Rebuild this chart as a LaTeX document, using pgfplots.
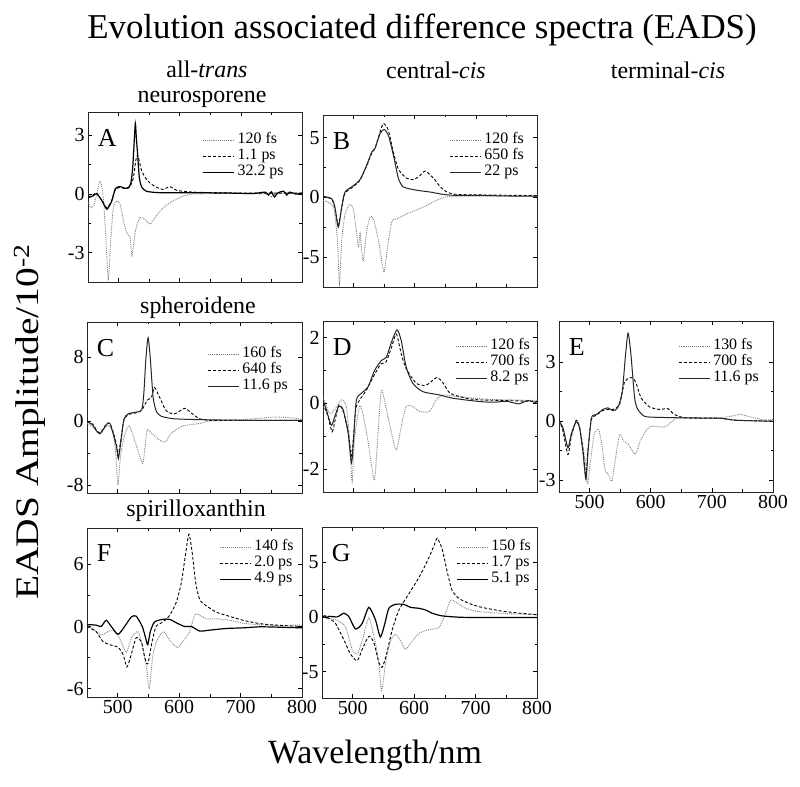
\documentclass[border=0pt]{standalone}
\usepackage{fontspec}
\setmainfont{Liberation Serif}
\usepackage{pgfplots}
\pgfplotsset{compat=1.18}
\pgfplotsset{
  panel/.style={scale only axis, xmin=450, xmax=800, xtick={500,600,700,800},
    minor x tick num=1, minor y tick num=1, tick align=inside, tick pos=both,
    major tick length=4bp, minor tick length=2.5bp,
    axis line style={line width=0.8bp, black!85},
    every tick/.style={line width=0.6bp, black},
    tick label style={font=\fontsize{20}{22}\selectfont},
    /pgf/number format/assume math mode=true,
    legend style={draw=none, fill=none, font=\fontsize{16}{16}\selectfont, anchor=north east,
      inner sep=0pt, nodes={inner xsep=1bp, inner ysep=1bp, text height=10.5bp, text depth=3.5bp}},
    legend cell align=left,
    legend image code/.code={\draw[##1] (0bp,0bp) -- (31bp,0bp); \path (33bp,0bp);}},
  nolab/.style={xticklabels={}},
  dotS/.style={black!50, densely dotted, line width=0.9bp, smooth, tension=0.4},
  dashS/.style={black, dash pattern=on 3bp off 2bp, line width=0.9bp, smooth, tension=0.4},
  solS/.style={black, line width=1.2bp, smooth, tension=0.4},
  solT/.style={black!85, line width=1bp, smooth, tension=0.4},
}
\newcommand{\plet}[1]{\node[anchor=base west, inner sep=0pt, font=\fontsize{26}{26}\selectfont] at (rel axis cs:0.045,0.8) {#1};}
\begin{document}
\begin{tikzpicture}
\path[use as bounding box] (0bp,0bp) rectangle (800bp,787bp);
% titles
\node[font=\fontsize{35}{40}\selectfont] at (422bp,757bp) {Evolution associated difference spectra (EADS)};
\node[font=\fontsize{24}{26}\selectfont] at (207bp,718bp) {all-\textit{trans}};
\node[font=\fontsize{24}{26}\selectfont] at (436bp,717bp) {central-\textit{cis}};
\node[font=\fontsize{24}{26}\selectfont] at (668bp,717bp) {terminal-\textit{cis}};
\node[font=\fontsize{24}{26}\selectfont] at (202bp,688bp) {neurosporene};
\node[font=\fontsize{24}{26}\selectfont] at (198bp,479bp) {spheroidene};
\node[font=\fontsize{24}{26}\selectfont] at (196bp,276bp) {spirilloxanthin};
\node[font=\fontsize{33}{36}\selectfont, rotate=90] at (30bp,365bp) {\scalebox{1.2}[1]{EADS Amplitude/10\textsuperscript{-2}}};
\node[font=\fontsize{34}{36}\selectfont] at (375bp,32bp) {Wavelength/nm};

% A
\begin{axis}[panel, nolab, at={(88bp,505bp)}, anchor=south west, width=214bp, height=170bp,
  ymin=-4.5, ymax=4.2, ytick={-3,0,3}, legend style={at={(0.92,0.882)}}]
\addplot[dotS] coordinates {(450,-0.44)(455,-0.7)(460,-0.55)(465,0.1)(469.6,0.66)(473,0.3)(476,-0.6)(479.5,-2.4)(483.3,-4.42)(487,-2.4)(491.5,-0.7)(497,-0.35)(502.5,-0.52)(508,-1.37)(513.3,-2.0)(518.8,-2.2)(521.6,-3.15)(524,-2.7)(528.6,-1.75)(535,-1.2)(543.3,-1.3)(551.5,-1.54)(559.7,-1.2)(573,-0.7)(589.6,-0.35)(606,-0.1)(622,0)(680,0.03)(740,0.0)(750,-0.15)(760,0.05)(800,0.05)};
\addlegendentry{120 fs}
\addplot[dashS] coordinates {(450,-0.15)(458,-0.05)(464,0.05)(472,-0.3)(478,-0.6)(481,-0.7)(485,-0.55)(489,-0.3)(495,0.25)(503,0.33)(511,0.28)(518,0.35)(524,0.8)(528,1.7)(530.7,2.0)(533,1.8)(538,1.17)(546,0.74)(554,0.5)(562,0.35)(573,0.24)(584,0.38)(595,0.19)(622,0.1)(680,0.06)(740,0.05)(800,0.05)};
\addlegendentry{1.1 ps}
\addplot[solS] coordinates {(450,-0.19)(458,-0.1)(464,0.02)(472,-0.3)(478,-0.65)(481,-0.78)(485,-0.6)(489,-0.35)(495,0.29)(503,0.38)(511,0.29)(516,0.33)(520,0.55)(523,1.3)(525,2.35)(527.4,3.62)(529,2.9)(531,2.1)(534,0.83)(538,0.35)(546,0.14)(568,0.07)(622,0.07)(680,0.05)(720,0.03)(740,0.1)(745,-0.05)(750,0.12)(755,-0.15)(760,0.05)(770,0.15)(775,-0.05)(780,0.1)(790,0.0)(800,0.05)};
\addlegendentry{32.2 ps}
\plet{A}
\end{axis}

% B
\begin{axis}[panel, nolab, at={(323bp,500bp)}, anchor=south west, width=214bp, height=172bp,
  ymin=-7.5, ymax=6.9, ytick={-5,0,5}, legend style={at={(0.944,0.90)}}]
\addplot[dotS] coordinates {(450,-0.25)(467,-0.8)(473.6,-3.6)(476.8,-7.25)(480.6,-3.6)(486,-1.4)(494,-0.6)(499.7,-1.0)(505,-3.0)(508,-4.2)(510.6,-3.0)(513.3,-4.5)(516,-5.3)(521.5,-2.8)(527,-1.65)(532.5,-1.8)(540.7,-3.6)(546,-5.3)(550,-6.27)(555.5,-4.2)(562.6,-2.0)(570.8,-1.8)(587,-1.37)(614.5,-0.8)(642,-0.1)(658,0.08)(720,0.1)(800,0.1)};
\addlegendentry{120 fs}
\addplot[dashS] coordinates {(450,0.1)(464,-0.15)(469.5,-0.9)(475,-2.3)(480.6,-0.9)(486,0.35)(499.7,0.9)(510.6,1.45)(521.5,2.65)(529.7,3.7)(535,4.1)(543.4,5.5)(549,6.19)(557,5.6)(565,3.8)(573.5,2.35)(587,1.6)(598.5,1.5)(608,1.8)(617,2.2)(631,1.6)(642,0.87)(653,0.45)(669,0.25)(720,0.2)(800,0.15)};
\addlegendentry{650 fs}
\addplot[solT] coordinates {(450,0.08)(464,-0.1)(469.5,-0.8)(475,-2.5)(480.6,-0.8)(486,0.45)(499.7,0.98)(510.6,1.5)(521.5,2.7)(529.7,3.8)(535,4.1)(543.4,5.35)(550,5.69)(557,5.2)(565.3,3.5)(573.5,1.57)(581.7,0.87)(603.5,0.6)(625.3,0.45)(647,0.25)(669,0.17)(707,0.17)(750,0.12)(800,0.1)};
\addlegendentry{22 ps}
\plet{B}
\end{axis}

% C
\begin{axis}[panel, nolab, at={(87bp,294bp)}, anchor=south west, width=215bp, height=171bp,
  ymin=-9, ymax=12.4, ytick={-8,0,8}, legend style={at={(0.94,0.86)}}]
\addplot[dotS] coordinates {(450,-0.3)(460,-0.8)(471,-1.5)(482,-0.6)(487,-0.7)(492.7,-1.6)(497,-4.2)(500.4,-8.0)(504.8,-4.2)(511.8,-1.6)(518.8,-0.6)(528,-2.5)(533.6,-3.85)(540.7,-5.3)(544.5,-3.2)(548,-1.1)(555,-1.5)(568.6,-2.4)(578,-2.6)(587.5,-1.5)(606.5,-0.6)(633.6,-0.3)(650,0)(704,0.2)(730,0.35)(758,0.5)(785,0.4)(800,0.2)};
\addlegendentry{160 fs}
\addplot[dashS] coordinates {(450,-0.05)(459.6,-0.4)(465,-1.1)(471,-1.5)(477,-0.9)(482,-0.3)(487.3,-0.3)(492.7,-1.4)(498,-2.9)(501,-4.3)(504.8,-2.5)(510,0.1)(517,0.8)(528,1.0)(536,1.2)(541,1.6)(548,2.6)(555,3.0)(560,4.2)(568,3.0)(579,1.3)(592.5,0.9)(609,1.6)(620,1.0)(633,0.3)(650,0.1)(700,0.1)(800,0.1)};
\addlegendentry{640 fs}
\addplot[solT] coordinates {(450,-0.08)(459.6,-0.5)(465,-1.2)(471,-1.6)(477,-1.0)(482,-0.4)(487.3,-0.3)(492.7,-1.6)(498,-3.2)(501,-4.7)(504.8,-2.8)(510,0.2)(517,0.9)(528,1.1)(539,1.4)(542.5,3.45)(545.7,7.6)(549.5,10.45)(553.3,7.6)(557.6,3.0)(563,1.2)(571,0.6)(590,0.3)(623,0.2)(700,0.1)(800,0.1)};
\addlegendentry{11.6 ps}
\plet{C}
\end{axis}

% D
\begin{axis}[panel, nolab, at={(323bp,295bp)}, anchor=south west, width=214bp, height=171bp,
  ymin=-2.7, ymax=2.5, ytick={-2,0,2}, legend style={at={(0.972,0.9)}}]
\addplot[dotS] coordinates {(450,0.2)(460.5,-0.3)(469,-0.2)(480,0.1)(488,-0.1)(493.6,-1.1)(497.6,-2.38)(501.5,-1.1)(509.6,-0.1)(515,-0.3)(523.4,-1.12)(528.8,-1.83)(534.5,-2.33)(540,-0.9)(545.5,0.4)(553.7,-0.2)(562,-0.9)(570,-1.42)(578,-0.7)(586,-0.1)(597,-0.1)(608,-0.25)(624,-0.25)(635,0.1)(646.8,0.25)(668.7,0.2)(720,0.12)(760,0.1)(800,0.08)};
\addlegendentry{120 fs}
\addplot[dashS] coordinates {(450,0.0)(458,-0.4)(465,-0.87)(470,-0.5)(476,-0.05)(483,-0.25)(491,-0.85)(496.5,-1.6)(500,-1.0)(504.5,-0.1)(521,0.4)(535,0.9)(545,1.2)(553,1.25)(562,1.7)(570,2.1)(578,1.5)(586,1.05)(603,0.6)(619,0.55)(636,0.78)(647,0.6)(658,0.3)(685,0.15)(706.5,0.1)(750,0.08)(800,0.05)};
\addlegendentry{700 fs}
\addplot[solT] coordinates {(450,0.09)(455.5,-0.2)(463.6,-0.67)(469,-0.42)(476,-0.09)(483,-0.2)(491,-0.9)(496.5,-1.83)(500,-1.1)(504.5,0.09)(512.7,0.3)(523.6,0.5)(534.5,1.0)(545.5,1.3)(553.7,1.4)(561.8,1.85)(571,2.23)(578,1.9)(586,1.1)(597,0.6)(613.6,0.35)(640.9,0.25)(662.7,0.15)(706.5,0.05)(730,0.03)(750,0.06)(770,-0.02)(785,0.08)(800,0.0)};
\addlegendentry{8.2 ps}
\plet{D}
\end{axis}

% E
\begin{axis}[panel, at={(559bp,295bp)}, anchor=south west, width=214bp, height=171bp,
  ymin=-3.6, ymax=5.1, ytick={-3,0,3}, legend style={at={(0.939,0.9)}}]
\addplot[dotS] coordinates {(450,0)(456.5,-0.3)(464.6,-1.35)(470,-0.6)(478,0)(483.6,-0.3)(492.8,-2.03)(496.6,-3.2)(500.9,-2.2)(507.5,-0.68)(514.6,-0.42)(520,-1.18)(525.5,-2.5)(530.9,-2.7)(536.4,-3.05)(541.8,-2.03)(548.9,-0.68)(555.5,-1.0)(563.7,-1.18)(574.6,-1.69)(582.8,-1.0)(593.7,-0.42)(602,-0.25)(621,-0.3)(629,-0.17)(643,0.17)(665,0.17)(708.6,0.17)(730.5,0.25)(747,0.34)(768.8,0.17)(785,0.08)(800,0.08)};
\addlegendentry{130 fs}
\addplot[dashS] coordinates {(450,0.08)(456.5,-0.5)(464.6,-1.7)(470,-0.8)(478,0.05)(483.6,-0.3)(489,-1.4)(494,-2.8)(497.5,-1.4)(503,0.1)(511,0.3)(522,0.55)(530,0.6)(538,0.6)(549,0.85)(557,1.98)(565,2.2)(570.7,2.2)(576,1.95)(584.4,1.18)(598,0.73)(614.5,0.6)(628,0.64)(639,0.34)(658,0.17)(713,0.15)(740,0.05)(800,0)};
\addlegendentry{700 fs}
\addplot[solT] coordinates {(450,0)(456.5,-0.34)(464.6,-1.35)(470,-0.68)(478,-0.03)(483.6,-0.34)(489,-1.52)(494,-2.96)(497.5,-1.52)(503,0.17)(511,0.34)(522,0.6)(530,0.68)(538,0.54)(546,0.68)(553.5,1.52)(558.8,3.38)(563,4.48)(567.7,3.38)(573.7,1.18)(579,0.6)(590,0.25)(609,0.2)(658,0.17)(713,0.15)(740,0.05)(800,0)};
\addlegendentry{11.6 ps}
\plet{E}
\end{axis}

% F
\begin{axis}[panel, at={(87bp,90bp)}, anchor=south west, width=215bp, height=169bp,
  ymin=-6.8, ymax=9.5, ytick={-6,0,6}, legend style={at={(0.967,0.935)}}]
\addplot[dotS] coordinates {(450,0.19)(462.5,-0.35)(473,-0.82)(484,-0.5)(492,-0.35)(503,-1.13)(514,-2.5)(522,-1.13)(533,-0.5)(541,-2.0)(547.6,-4.3)(551.5,-6.0)(557.6,-2.6)(565.8,-1.13)(575,-0.5)(584.5,-1.3)(597,-2.05)(606,-1.45)(617,-0.5)(625,1.07)(630,1.2)(644,0.75)(660,0.75)(682,0.6)(709,0.28)(742,0.13)(800,0.13)};
\addlegendentry{140 fs}
\addplot[dashS] coordinates {(450,0)(465,-0.5)(476,-1.45)(487,-1.76)(500.5,-2.0)(508.7,-2.7)(515,-3.9)(522,-2.7)(530,-1.1)(538.3,-1.45)(544,-3.0)(549,-3.6)(556,-1.45)(562.5,0)(573.6,0.44)(584.5,1.07)(595.3,2.33)(603.5,4.2)(610.5,7.0)(616,8.9)(621.5,7.0)(627,4.2)(633.5,2.6)(644,2.0)(660.7,1.38)(677,1.07)(704,0.6)(731,0.28)(758,0.13)(800,0)};
\addlegendentry{2.0 ps}
\addplot[solS] coordinates {(450,0.19)(465,0.13)(473,0)(481.3,0.6)(489.5,0)(500.5,-0.75)(511.2,0)(522,0.91)(530,1.0)(540,0)(545.5,-1.13)(549,-1.76)(553,-0.5)(560,0.44)(573.6,0.69)(584.5,0.69)(598,0.28)(609,0)(620,0)(633.5,-0.44)(650,-0.35)(677,-0.19)(704,-0.13)(731,-0.03)(758,-0.06)(800,-0.13)};
\addlegendentry{4.9 ps}
\plet{F}
\end{axis}

% G
\begin{axis}[panel, at={(322bp,89bp)}, anchor=south west, width=215bp, height=171bp,
  ymin=-7.4, ymax=8.2, ytick={-5,0,5}, legend style={at={(0.977,0.93)}}]
\addplot[dotS] coordinates {(450,0)(472,-0.27)(488,-0.87)(499,-2.97)(507.3,-3.4)(515.4,-2.2)(526.3,-0.1)(537,-2.37)(542.6,-4.2)(547,-6.7)(554.6,-3.8)(561.6,-2.2)(569.6,-1.6)(578,-2.2)(586,-2.97)(597,-2.2)(608,-1.5)(624,-1.17)(640.5,-0.96)(651.3,0.33)(659.4,1.53)(670.3,1.23)(684,0.78)(705.6,0.48)(750,0.3)(800,0.2)};
\addlegendentry{150 fs}
\addplot[dashS] coordinates {(450,0)(460,-0.1)(472,-0.6)(485.5,-2.07)(496.5,-3.4)(507.3,-4.0)(515.4,-2.97)(526.3,-1.77)(534.5,-2.37)(542.6,-4.17)(548,-4.6)(554.6,-3.5)(564.4,-1.17)(575.3,0.63)(591.6,2.13)(607.9,3.6)(621.5,5.1)(632.4,6.5)(637.8,7.18)(646,6.1)(654,4.05)(662,2.4)(673,1.68)(689.5,1.23)(705.6,0.93)(740,0.55)(770,0.35)(800,0.2)};
\addlegendentry{1.7 ps}
\addplot[solS] coordinates {(450,0)(455,0.1)(458,-0.1)(461,0.05)(475,0)(485.5,0.33)(493.6,0.03)(504.5,-1.1)(515.4,-0.6)(526.3,0.87)(537,-0.27)(545,-1.83)(552.3,-0.6)(558.8,0.78)(569.6,1.14)(583.3,1.14)(594,0.87)(607.8,0.78)(618.6,0.63)(629.5,0.33)(645.8,0.09)(673,-0.03)(705.6,-0.06)(800,-0.05)};
\addlegendentry{5.1 ps}
\plet{G}
\end{axis}
\end{tikzpicture}
\end{document}
